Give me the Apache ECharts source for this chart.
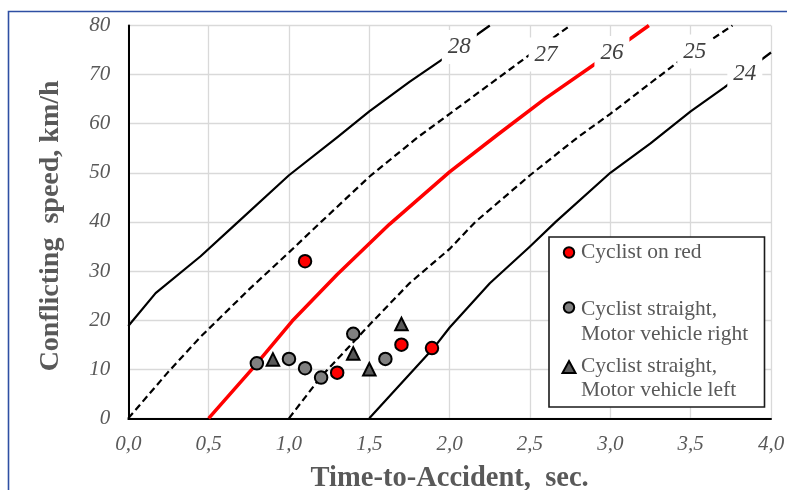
<!DOCTYPE html>
<html>
<head>
<meta charset="utf-8">
<script src="https://cdn.jsdelivr.net/npm/echarts@6/dist/echarts.min.js"></script>
<style>
html,body{margin:0;padding:0;background:#fff;}
#chart{width:787px;height:490px;}
</style>
</head>
<body>
<div id="chart"></div>
<script>
// ---- data ----
const xTicks = [0, 0.5, 1.0, 1.5, 2.0, 2.5, 3.0, 3.5, 4.0];
const yTicks = [0, 10, 20, 30, 40, 50, 60, 70, 80];

const curve28 = [[0,18.8],[0.17,25.5],[0.45,33],[0.66,39.3],[1.0,49.5],[1.3,57.2],[1.5,62.5],[1.75,68.5],[1.95,73],[2.25,80]];
const curve27 = [[0,0],[0.25,9.5],[0.45,16.6],[0.75,26.2],[1.0,33.8],[1.2,40],[1.5,49.2],[1.8,57.2],[2.0,62],[2.48,73.6],[2.75,80]];
const curve26 = [[0.5,0],[0.77,10],[1.02,19.8],[1.3,29.3],[1.625,39.5],[2.0,50.2],[2.3,57.8],[2.59,65],[2.88,71.6],[3.24,80]];
const curve25 = [[1.0,0],[1.2,8.5],[1.5,19],[1.75,27.5],[2.0,34.5],[2.16,40],[2.5,49.5],[2.8,57.3],[3.0,62],[3.41,72.3],[3.76,80]];
const curve24 = [[1.5,0],[1.9,14.3],[2.0,18.5],[2.25,27.5],[2.5,35],[2.66,40],[3.0,50],[3.25,56],[3.5,62.5],[3.71,67.4],[4.0,74.5]];

const curveLabels = [[2.06,75.6,'28'],[2.60,74.1,'27'],[3.01,74.4,'26'],[3.525,74.7,'25'],[3.837,70.2,'24']];

const cyclistOnRed = [[1.1,32],[1.3,9.3],[1.7,15],[1.89,14.3]];
const straightRight = [[0.8,11.2],[1.0,12.1],[1.1,10.2],[1.2,8.3],[1.4,17.2],[1.6,12.1]];
const straightLeft = [[0.9,12],[1.4,13.2],[1.5,10],[1.7,19.2]];

const legendNames = ['Cyclist on red', 'Cyclist straight,', 'Motor vehicle right', 'Cyclist straight,', 'Motor vehicle left'];

// ---- chart ----
const SERIF = '"Liberation Serif","Times New Roman",serif';
const GRAY = '#595959';
const chart = echarts.init(document.getElementById('chart'), null, {renderer: 'canvas'});

function curve(data, color, width, type) {
  return {
    type: 'line', data: data, symbol: 'none', smooth: false, z: 3,
    lineStyle: {color: color, width: width, type: type, join: 'round'},
    silent: true, animation: false
  };
}

function pts(data, symbol, fill, size) {
  return {
    type: 'scatter', data: data, symbol: symbol, symbolSize: size, z: 6,
    itemStyle: {color: fill, borderColor: '#000', borderWidth: 2, opacity: 1},
    animation: false
  };
}

const option = {
  backgroundColor: '#fff',
  animation: false,
  grid: {left: 128.3, right: 16, top: 25.5, bottom: 71.7, containLabel: false, outerBoundsMode: 'none'},
  xAxis: {
    type: 'value', min: xTicks[0], max: xTicks[xTicks.length - 1], interval: 0.5,
    name: 'Time-to-Accident,  sec.', nameLocation: 'middle', nameGap: 46,
    nameTextStyle: {fontFamily: SERIF, fontSize: 28.5, fontWeight: 'bold', color: GRAY},
    axisLine: {show: true, onZero: false, lineStyle: {color: '#000', width: 2}},
    axisTick: {show: false},
    axisLabel: {
      margin: 16, fontFamily: SERIF, fontStyle: 'italic', fontSize: 21, color: GRAY,
      formatter: v => v.toFixed(1).replace('.', ',')
    },
    splitLine: {show: true, lineStyle: {color: '#D9D9D9', width: 1.3}}
  },
  yAxis: {
    type: 'value', min: yTicks[0], max: yTicks[yTicks.length - 1], interval: 10,
    name: 'Conflicting  speed, km/h', nameLocation: 'middle', nameGap: 64, nameRotate: 90,
    nameTextStyle: {fontFamily: SERIF, fontSize: 28, fontWeight: 'bold', color: GRAY, padding: [0, 8, 0, 0]},
    axisLine: {show: true, onZero: false, lineStyle: {color: '#000', width: 2}},
    axisTick: {show: false},
    axisLabel: {margin: 18, fontFamily: SERIF, fontStyle: 'italic', fontSize: 21, color: GRAY},
    splitLine: {show: true, lineStyle: {color: '#D9D9D9', width: 1.3}}
  },
  series: [
    curve(curve28, '#000', 2.2, 'solid'),
    curve(curve27, '#000', 2.2, [7, 4]),
    curve(curve26, '#FF0000', 3.5, 'solid'),
    curve(curve25, '#000', 2.2, [7, 4]),
    curve(curve24, '#000', 2.2, 'solid'),
    pts(cyclistOnRed, 'circle', '#FF0000', 12.5),
    pts(straightRight, 'circle', '#808080', 12.5),
    pts(straightLeft, 'triangle', '#595959', 12.5)
  ]
};
chart.setOption(option);

// curve value labels (white boxes that break the curves), placed via the chart's own scales
const labelEls = curveLabels.map(function (d) {
  const p = chart.convertToPixel({gridIndex: 0}, [d[0], d[1]]);
  return {
    type: 'text', x: p[0], y: p[1], z: 50, silent: true,
    style: {
      text: d[2], fontFamily: SERIF, fontStyle: 'italic', fontSize: 23, fill: '#404040',
      align: 'center', verticalAlign: 'middle',
      backgroundColor: '#fff', padding: [6, 6, 5, 6]
    }
  };
});

const legendText = function (t, y) {
  return {type: 'text', x: 581, y: y, style: {text: t, fontFamily: SERIF, fontSize: 21.5, fill: GRAY, verticalAlign: 'middle'}};
};

chart.setOption({
  graphic: labelEls.concat([
    {
      type: 'rect', z: 100, silent: true,
      shape: {x: 8.5, y: 11.5, width: 900, height: 600},
      style: {fill: 'none', stroke: '#2E4FA3', lineWidth: 1.6}
    },
    {
      type: 'group', z: 100, silent: true,
      children: [
        {type: 'rect', shape: {x: 549, y: 237, width: 215.5, height: 170},
         style: {fill: '#fff', stroke: '#1a1a1a', lineWidth: 1.6}},
        {type: 'circle', shape: {cx: 569, cy: 252.5, r: 5.2}, style: {fill: '#FF0000', stroke: '#000', lineWidth: 2}},
        {type: 'circle', shape: {cx: 569, cy: 307.5, r: 5.2}, style: {fill: '#808080', stroke: '#000', lineWidth: 2}},
        {type: 'polygon', shape: {points: [[569, 361], [575.5, 373], [562.5, 373]]}, style: {fill: '#595959', stroke: '#000', lineWidth: 2}},
        legendText(legendNames[0], 252.5),
        legendText(legendNames[1], 309.5),
        legendText(legendNames[2], 334),
        legendText(legendNames[3], 366.5),
        legendText(legendNames[4], 390.5)
      ]
    }
  ])
});
</script>
</body>
</html>
